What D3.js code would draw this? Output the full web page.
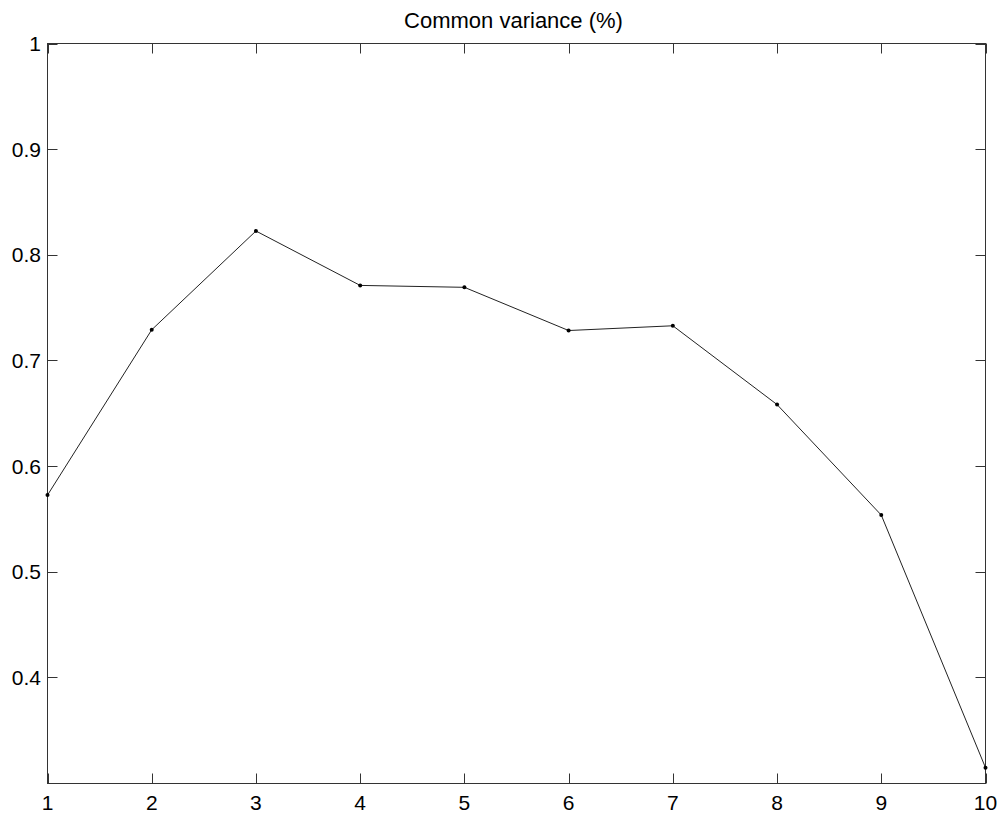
<!DOCTYPE html>
<html><head><meta charset="utf-8">
<script src="https://cdn.jsdelivr.net/npm/d3@7"></script>
<style>body{margin:0;background:#fff;}svg{display:block;}</style>
</head><body>
<script>
const xValues = [1,2,3,4,5,6,7,8,9,10];
const yValues = [0.5725,0.729,0.8225,0.771,0.7692,0.7283,0.7328,0.6582,0.5536,0.3145];
const yTicks = [0.4,0.5,0.6,0.7,0.8,0.9,1];
const xTicks = [1,2,3,4,5,6,7,8,9,10];
const title = "Common variance (%)";

const W=1001,H=816;
const m={left:47.5,right:1001-985.5,top:43.5,bottom:816-783.5};
const svg=d3.select("body").append("svg").attr("width",W).attr("height",H);
const x=d3.scaleLinear().domain([1,10]).range([m.left,W-m.right]);
const y=d3.scaleLinear().domain([0.2995,1]).range([H-m.bottom,m.top]);
const font="Liberation Sans, Arial, sans-serif";
const axCol="#333";

// frame
svg.append("rect").attr("x",m.left).attr("y",m.top).attr("width",x(10)-m.left).attr("height",y(0.2995)-m.top)
  .attr("fill","none").attr("stroke",axCol).attr("stroke-width",1);

const tl=10;
const g=svg.append("g").attr("stroke",axCol).attr("stroke-width",1);
xTicks.forEach(t=>{
  const px=Math.round(x(t))+0.5;
  g.append("line").attr("x1",px).attr("x2",px).attr("y1",y.range()[0]).attr("y2",y.range()[0]-tl);
  g.append("line").attr("x1",px).attr("x2",px).attr("y1",m.top).attr("y2",m.top+tl);
});
yTicks.forEach(t=>{
  const py=Math.round(y(t))+0.5;
  g.append("line").attr("x1",m.left).attr("x2",m.left+tl).attr("y1",py).attr("y2",py);
  g.append("line").attr("x1",x(10)).attr("x2",x(10)-tl).attr("y1",py).attr("y2",py);
});

svg.selectAll(".xl").data(xTicks).enter().append("text")
  .attr("x",d=>x(d)).attr("y",810).attr("text-anchor","middle")
  .attr("font-family",font).attr("font-size",21).attr("fill","#000").text(d=>d);
svg.selectAll(".yl").data(yTicks).enter().append("text")
  .attr("x",41).attr("y",d=>y(d)+7.5).attr("text-anchor","end")
  .attr("font-family",font).attr("font-size",21).attr("fill","#000").text(d=>d);

svg.append("text").attr("x",(x(1)+x(10))/2 - 3).attr("y",28).attr("text-anchor","middle")
  .attr("font-family",font).attr("font-size",22).attr("fill","#000").text(title);

const data=xValues.map((v,i)=>[v,yValues[i]]);
svg.append("path").datum(data).attr("fill","none").attr("stroke","#222").attr("stroke-width",1)
  .attr("d",d3.line().x(d=>x(d[0])).y(d=>y(d[1])));
svg.selectAll(".pt").data(data).enter().append("circle")
  .attr("cx",d=>x(d[0])).attr("cy",d=>y(d[1])).attr("r",2).attr("fill","#000");
</script>
</body></html>
